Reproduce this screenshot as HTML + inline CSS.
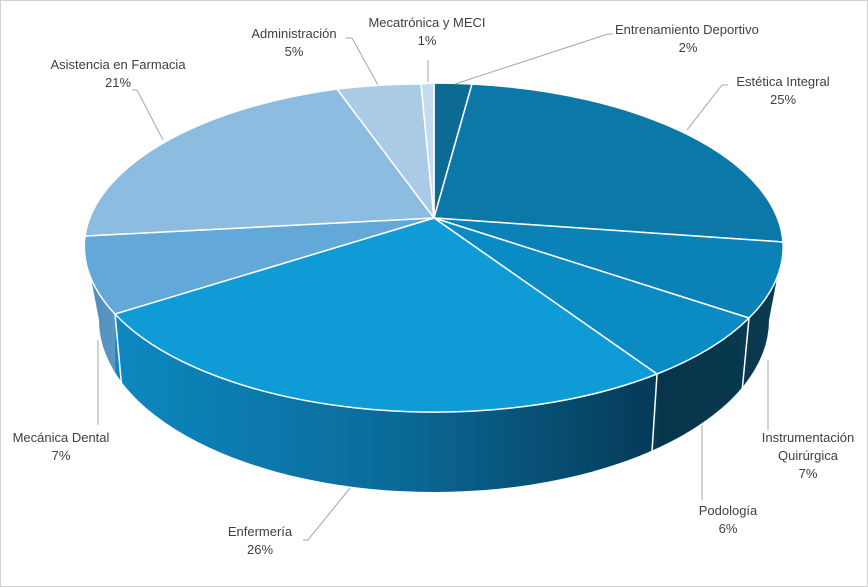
<!DOCTYPE html>
<html><head><meta charset="utf-8"><style>
body{margin:0;background:#fff}
svg{display:block}
text{font-family:"Liberation Sans",sans-serif;font-size:13px;fill:#404040}
</style></head><body>
<svg width="868" height="587" viewBox="0 0 868 587">
<defs>
<linearGradient id="side" x1="85" y1="0" x2="783" y2="0" gradientUnits="userSpaceOnUse">
<stop offset="0" stop-color="#4f8cb8"/>
<stop offset="0.043" stop-color="#5a97c2"/>
<stop offset="0.044" stop-color="#0d88c0"/>
<stop offset="0.45" stop-color="#0a6a98"/>
<stop offset="0.82" stop-color="#053a57"/>
<stop offset="0.821" stop-color="#06354c"/>
<stop offset="1" stop-color="#0a3a50"/>
</linearGradient>
</defs>
<rect x="0.5" y="0.5" width="867" height="586" fill="#fff" stroke="#d0d0d0"/>
<!-- side wall -->
<path d="M85,247 A349,165 0 0 0 783,247 L769,320 A335,172 0 0 1 99,320 Z" fill="url(#side)"/>
<g stroke="#fff" stroke-width="1.5">
<line x1="115" y1="314" x2="122" y2="390"/>
<line x1="657" y1="374" x2="652" y2="452"/>
<line x1="749" y1="318" x2="742" y2="392"/>
</g>
<!-- top slices -->
<g stroke="#fff" stroke-width="1.5" stroke-linejoin="round">
<path d="M434,218 L434,83 A349,165 0 0 1 472,84 Z" fill="#0d6a94"/>
<path d="M434,218 L472,84 A349,165 0 0 1 783,242 Z" fill="#0b78a8"/>
<path d="M434,218 L783,242 A349,165 0 0 1 749,318 Z" fill="#0a82b8"/>
<path d="M434,218 L749,318 A349,165 0 0 1 657,374 Z" fill="#0b8bc4"/>
<path d="M434,218 L657,374 A349,165 0 0 1 115,314 Z" fill="#0f9bd6"/>
<path d="M434,218 L115,314 A349,165 0 0 1 85,236 Z" fill="#62a9da"/>
<path d="M434,218 L85,236 A349,165 0 0 1 337,89 Z" fill="#8cbde1"/>
<path d="M434,218 L337,89 A349,165 0 0 1 421,84 Z" fill="#aacbe6"/>
<path d="M434,218 L421,84 A349,165 0 0 1 434,83 Z" fill="#c3dcf0"/>
</g>
<!-- leader lines -->
<g stroke="#a6a6a6" stroke-width="1" fill="none">
<polyline points="455,84 608,34 613,34"/>
<polyline points="687,130 722,85 728,85"/>
<polyline points="768,360 768,430"/>
<polyline points="702,425 702,500"/>
<polyline points="350,488 308,540 303,540"/>
<polyline points="98,340 98,425"/>
<polyline points="163,140 137,90 132,90"/>
<polyline points="378,85 352,38 346,38"/>
<polyline points="428,82 428,60"/>
</g>
<!-- labels -->
<text x="615" y="34">Entrenamiento Deportivo</text><text x="688" y="52" text-anchor="middle">2%</text>
<text x="783" y="86" text-anchor="middle">Estética Integral</text><text x="783" y="104" text-anchor="middle">25%</text>
<text x="808" y="442" text-anchor="middle">Instrumentación</text><text x="808" y="460" text-anchor="middle">Quirúrgica</text><text x="808" y="478" text-anchor="middle">7%</text>
<text x="728" y="515" text-anchor="middle">Podología</text><text x="728" y="533" text-anchor="middle">6%</text>
<text x="260" y="536" text-anchor="middle">Enfermería</text><text x="260" y="554" text-anchor="middle">26%</text>
<text x="61" y="442" text-anchor="middle">Mecánica Dental</text><text x="61" y="460" text-anchor="middle">7%</text>
<text x="118" y="69" text-anchor="middle">Asistencia en Farmacia</text><text x="118" y="87" text-anchor="middle">21%</text>
<text x="294" y="38" text-anchor="middle">Administración</text><text x="294" y="56" text-anchor="middle">5%</text>
<text x="427" y="27" text-anchor="middle">Mecatrónica y MECI</text><text x="427" y="45" text-anchor="middle">1%</text>
</svg>
</body></html>
